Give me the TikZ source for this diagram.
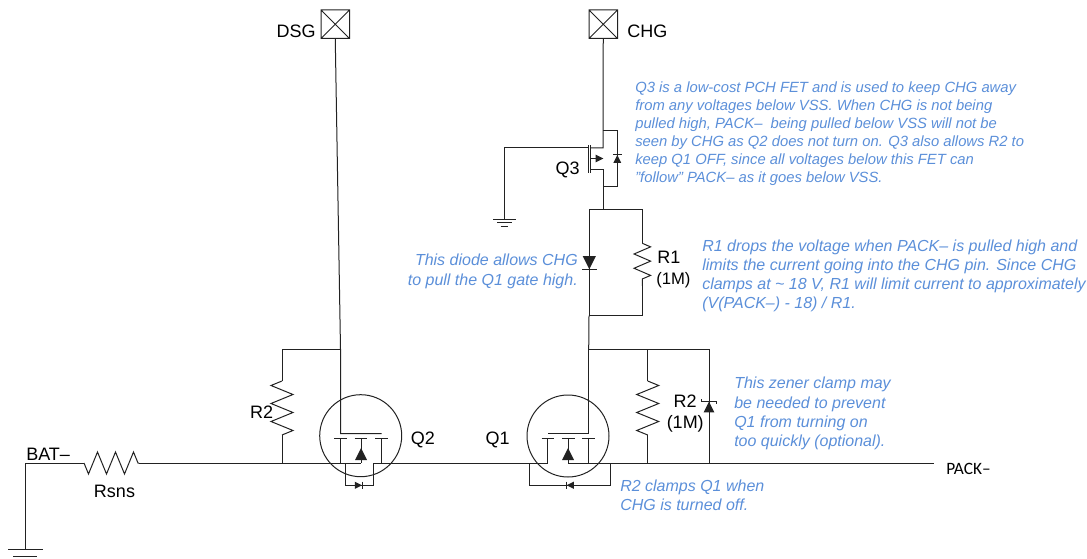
\documentclass[tikz,border=0pt]{standalone}
\usepackage{fontspec}
\setmainfont{Liberation Sans}
\newfontfamily\packfont{Carlito}
\usetikzlibrary{decorations.pathmorphing}
\definecolor{noteblue}{HTML}{5B8FD9}
\definecolor{wirecol}{HTML}{222222}
\tikzset{
  wire/.style={draw=wirecol, line width=0.75pt},
  res/.style={wire, decoration={zigzag, amplitude=8.25pt, segment length=13.5pt}, decorate},
  resm/.style={wire, decoration={zigzag, amplitude=8.25pt, segment length=13.5pt, mirror}, decorate},
  resb/.style={wire, decoration={zigzag, amplitude=6.2pt, segment length=10.7pt}, decorate},
  lbl/.style={inner sep=0pt, font=\fontsize{13.5}{15}\selectfont},
  note/.style={inner sep=0pt, text=noteblue, font=\fontsize{12}{14.4}\selectfont\itshape},
}
\begin{document}
\begin{tikzpicture}[x=0.75pt, y=-0.75pt]

  \newcommand\Tri[3]{\fill[wirecol, shift={(#1)}, rotate=#3, scale=#2] (-6,6) -- (6,6) -- (0,-6) -- cycle;}
  \newcommand\Pin[3]{
    \draw[wire] (#2,#3) rectangle +(28.5,28.5) (#2,#3) -- +(28.5,28.5) (#2+28.5,#3) -- +(-28.5,28.5);
    \coordinate (#1) at (#2+14.25,#3+28.5);
  }

  \useasboundingbox (0,0) rectangle (1087,559);

  % pins
  \Pin{dsgpin}{321}{10}
  \Pin{chgpin}{589}{10}
  \node[lbl, anchor=east] (dsglbl) at (316,31) {DSG};
  \node[lbl, anchor=west] (chglbl) at (627,31) {CHG};

  % main line
  \coordinate (batp) at (25,463);
  \coordinate (rsnsl) at (84,463);
  \coordinate (rsnsr) at (139,463);
  \coordinate (q2s) at (361,463);
  \coordinate (q2d) at (373.3,463);
  \coordinate (q1s) at (547.7,463);
  \coordinate (q1d) at (568,463);
  \coordinate (packp) at (934,463);
  \coordinate (gnda) at (25,549);

  \draw[wire] (gnda) -- (batp) -- (rsnsl);
  \draw[resm] (rsnsl) -- (rsnsr);
  \draw[wire] (rsnsr) -- (q2s);
  \draw[wire] (q2d) -- (q1s);
  \draw[wire] (q1d) -- (packp);
  \draw[wire] (8,549) -- (43,549); % gnd
  \draw[wire] (13,556) -- (37,556);

  \node[lbl, anchor=west] (batlbl) at (26,454) {BAT–};
  \node[lbl] (rsnslbl) at (114.5,491) {Rsns};
  \node[anchor=west, inner sep=0pt, font=\fontsize{13}{15}\selectfont\packfont] (packlbl) at (946,469) {PACK–};

  % Q2
  \node[circle, draw=wirecol, line width=0.75pt, minimum size=61.5pt, inner sep=0pt] (q2) at (360.7,435.7) {};
  \coordinate (q2g) at (340.5,433.7);
  \coordinate (q2r) at (381.5,433.7);
  \coordinate (q2top) at (340.5,349.3);
  \draw[wire] (dsgpin) -- (q2top) -- (q2g) -- (q2r);
  \draw[wire] (334,438.3) -- (347,438.3) (354.7,438.3) -- (367,438.3) (375,438.3) -- (388,438.3);
  \draw[wire] (340.5,438.3) -- (340.5,463) (381.5,438.3) -- (381.5,463) (361,438.3) -- (q2s);
  \Tri{361,454}{1}{0}
  \draw[wire] (345,463) -- (345,485.3) -- (373.3,485.3) -- (q2d);
  \Tri{358.5,485.3}{0.6}{-90}
  \draw[wire] (362.3,481.5) -- (362.3,489);
  \node[lbl, anchor=west] (q2lbl) at (410.5,440) {Q2};

  % R2 of Q2
  \coordinate (r2a) at (282,349.3);
  \coordinate (r2b) at (282,381);
  \coordinate (r2c) at (282,435);
  \coordinate (r2d) at (282,463);
  \draw[wire] (q2top) -- (r2a) -- (r2b);
  \draw[resm] (r2b) -- (r2c);
  \draw[wire] (r2c) -- (r2d);
  \node[lbl, anchor=east] (r2lbl) at (273.5,412.5) {R2};

  % Q1
  \node[circle, draw=wirecol, line width=0.75pt, minimum size=61.5pt, inner sep=0pt] (q1) at (568,436) {};
  \coordinate (q1g) at (588.7,433.7);
  \coordinate (q1l) at (547.7,433.7);
  \coordinate (q1top) at (588.7,349.3);
  \draw[wire] (q1top) -- (q1g) -- (q1l);
  \draw[wire] (541.7,438.3) -- (554,438.3) (562.3,438.3) -- (575,438.3) (582.3,438.3) -- (595,438.3);
  \draw[wire] (547.7,438.3) -- (q1s) (588.7,438.3) -- (588.7,463) (568,438.3) -- (q1d);
  \Tri{568,454}{1}{0}
  \draw[wire] (529.3,463) -- (529.3,485.3) -- (610.3,485.3) -- (610.3,463);
  \Tri{570.2,485.3}{0.6}{90}
  \draw[wire] (566.3,481.5) -- (566.3,489);
  \node[lbl, anchor=east] (q1lbl) at (510,440) {Q1};

  % R2 of Q1 and zener
  \coordinate (r3b) at (647.7,381);
  \coordinate (r3c) at (647.7,435);
  \coordinate (znr) at (709,349.3);
  \draw[wire] (q1top) -- (znr) -- (709,463);
  \draw[wire] (647.7,349.3) -- (r3b);
  \draw[res] (r3b) -- (r3c);
  \draw[wire] (r3c) -- (647.7,463);
  \Tri{709,407}{0.9}{0}
  \draw[wire] (701,399) -- (701,401.3) -- (716.5,401.3) -- (716.5,403.5);
  \node[lbl, anchor=east] (r3lbl) at (697,401) {R2};
  \node[lbl, anchor=east] (r3val) at (704,424) {(1M)};

  % R1 and diode
  \coordinate (r1top) at (589.3,210);
  \coordinate (r1bot) at (589.3,315.7);
  \coordinate (r1a) at (642.3,210);
  \coordinate (r1b) at (642.3,243.3);
  \coordinate (r1c) at (642.3,286);
  \coordinate (r1d) at (642.3,315.7);
  \draw[wire] (r1top) -- (r1bot) -- (r1d) -- (r1c);
  \draw[resb] (r1b) -- (r1c);
  \draw[wire] (r1top) -- (r1a) -- (r1b);
  \draw[wire] (589,315.7) -- (q1top);
  \Tri{589.3,262.7}{1.1}{180}
  \draw[wire] (582,269.5) -- (596.5,269.5);
  \node[lbl, anchor=west] (r1lbl) at (657,257) {R1};
  \node[lbl, anchor=west, font=\fontsize{12.5}{15}\selectfont] (r1val) at (656,280) {(1M)};

  % Q3
  \coordinate (q3d) at (603,148);
  \coordinate (q3s) at (603,170);
  \coordinate (q3top) at (603,131);
  \coordinate (q3bot) at (603,186.7);
  \coordinate (q3gt) at (588.3,148);
  \coordinate (q3ga) at (504.3,148);
  \coordinate (q3gb) at (504.3,219);
  \draw[wire] (chgpin) -- (q3d) -- (590.7,148);
  \draw[wire] (590.7,170) -- (q3s) -- (603,210) -- (r1top);
  \draw[wire] (590.7,145.3) -- (590.7,172.7);
  \draw[wire] (588.3,145.3) -- (588.3,172.7);
  \draw[wire] (q3gt) -- (q3ga) -- (q3gb);
  \draw[wire] (590.7,158.5) -- (600,158.5);
  \Tri{599.5,158.5}{0.65}{-90}
  \draw[wire] (q3top) -- (617.3,131) -- (617.3,186.7) -- (q3bot);
  \Tri{617.3,159}{0.65}{0}
  \draw[wire] (613,155) -- (621.5,155);
  \draw[wire] (493.3,219.3) -- (515.7,219.3) (497,222.7) -- (512,222.7) (500.5,226.3) -- (508,226.3);
  \node[lbl, anchor=east] (q3lbl) at (580,170) {Q3};

  % notes
  \node[note, anchor=north west, align=left, font=\fontsize{11.1}{13.5}\selectfont\itshape] (q3note) at (635,82) {Q3 is a low-cost PCH FET and is used to keep CHG away\\from any voltages below VSS. When CHG is not being\\pulled high, PACK–\ \ being pulled below VSS will not be\\seen by CHG as Q2 does not turn on. Q3 also allows R2 to\\keep Q1 OFF, since all voltages below this FET can\\"follow" PACK– as it goes below VSS.};
  \node[note, anchor=north east, align=right] (dionote) at (578,254) {This diode allows CHG\\to pull the Q1 gate high.};
  \node[note, anchor=north west, align=left] (r1note) at (702,239.5) {R1 drops the voltage when PACK– is pulled high and\\limits the current going into the CHG pin. Since CHG\\clamps at \textasciitilde{} 18 V, R1 will limit current to approximately\\(V(PACK–) - 18) / R1.};
  \node[note, anchor=north west, align=left] (znrnote) at (734,377) {This zener clamp may\\be needed to prevent\\Q1 from turning on\\too quickly (optional).};
  \node[note, anchor=north west, align=left] (r2note) at (620,479.5) {R2 clamps Q1 when\\CHG is turned off.};

\end{tikzpicture}
\end{document}
